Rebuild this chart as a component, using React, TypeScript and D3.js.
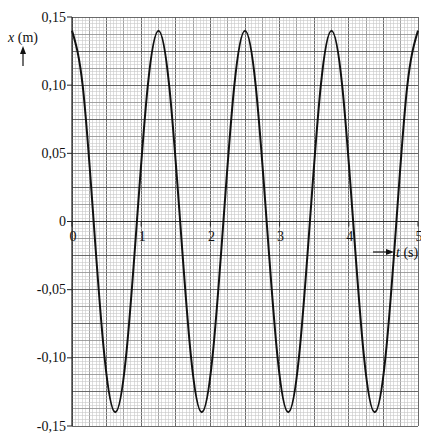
import * as d3 from "d3";

// sampled readings of the curve, every 1/8 period
const times = [
  0, 0.156, 0.313, 0.469, 0.625, 0.781, 0.938, 1.094,
  1.25, 1.406, 1.563, 1.719, 1.875, 2.031, 2.188, 2.344,
  2.5, 2.656, 2.813, 2.969, 3.125, 3.281, 3.438, 3.594,
  3.75, 3.906, 4.063, 4.219, 4.375, 4.531, 4.688, 4.844, 5,
];
const positions = [
  0.14, 0.099, 0, -0.099, -0.14, -0.099, 0, 0.099,
  0.14, 0.099, 0, -0.099, -0.14, -0.099, 0, 0.099,
  0.14, 0.099, 0, -0.099, -0.14, -0.099, 0, 0.099,
  0.14, 0.099, 0, -0.099, -0.14, -0.099, 0, 0.099,
  0.14,
];

const yTicks = [0.15, 0.1, 0.05, 0, -0.05, -0.1, -0.15];
const yTickLabels = ["0,15", "0,10", "0,05", "0", "-0,05", "-0,10", "-0,15"];
const xTicks = [0, 1, 2, 3, 4, 5];
const xTickLabels = ["0", "1", "2", "3", "4", "5"];

const width = 421;
const height = 437;
const margin = { top: 17, right: 3, bottom: 11, left: 72 };

export default function App() {
  const x = d3.scaleLinear().domain([0, 5]).range([margin.left, width - margin.right]);
  const y = d3.scaleLinear().domain([-0.15, 0.15]).range([height - margin.bottom, margin.top]);

  const font = '"Liberation Serif", "Times New Roman", serif';

  // graph paper: 20 small cells per second, 20 per 0.05 m
  const xCells = d3.range(0, 101).map((i) => ({ v: i * 0.05, i }));
  const yCells = d3.range(0, 121).map((i) => ({ v: -0.15 + i * 0.0025, i }));
  const cellStyle = (i: number) =>
    i % 10 === 0
      ? { stroke: "#5a5a5a", w: 0.9 }
      : i % 5 === 0
      ? { stroke: "#8c8c8c", w: 0.8 }
      : { stroke: "#c8c8c8", w: 0.6 };

  const data = times.map((t, k) => ({ t, v: positions[k] }));
  const line = d3
    .line<{ t: number; v: number }>()
    .x((d) => x(d.t))
    .y((d) => y(d.v))
    .curve(d3.curveNatural);

  const y0 = y(0);
  const txt = { fontFamily: font, fontSize: 14 };

  return (
    <svg
      width={width}
      height={height}
      style={{ position: "absolute", left: 0, top: 0, background: "#fff" }}
    >
      <rect x={0} y={0} width={width} height={height} fill="#fff" />
      <g>
        {xCells.map(({ v, i }) => {
          const s = cellStyle(i);
          return (
            <line
              key={"gx" + i}
              x1={x(v)}
              x2={x(v)}
              y1={y(-0.15)}
              y2={y(0.15)}
              stroke={s.stroke}
              strokeWidth={s.w}
              shapeRendering="crispEdges"
            />
          );
        })}
        {yCells.map(({ v, i }) => {
          const s = cellStyle(i);
          return (
            <line
              key={"gy" + i}
              x1={x(0)}
              x2={x(5)}
              y1={y(v)}
              y2={y(v)}
              stroke={s.stroke}
              strokeWidth={s.w}
              shapeRendering="crispEdges"
            />
          );
        })}
      </g>
      <line x1={x(0)} x2={x(0)} y1={y(-0.15)} y2={y(0.15)} stroke="#222" strokeWidth={1.2} />
      <line x1={x(0)} x2={x(5)} y1={y0} y2={y0} stroke="#333" strokeWidth={1} />

      {yTicks.map((v, k) => (
        <g key={"yt" + k}>
          <line x1={x(0) - 5} x2={x(0)} y1={y(v)} y2={y(v)} stroke="#222" strokeWidth={1} />
          <text
            x={x(0) - 6}
            y={y(v) + 4.5}
            textAnchor="end"
            style={txt}
            fill="#111"
          >
            {yTickLabels[k]}
          </text>
        </g>
      ))}

      {xTicks.map((v, k) => (
        <g key={"xt" + k}>
          <line x1={x(v)} x2={x(v)} y1={y0} y2={y0 + 5} stroke="#222" strokeWidth={1} />
          <text x={x(v) + 1} y={y0 + 19} textAnchor="middle" style={txt} fill="#111">
            {xTickLabels[k]}
          </text>
        </g>
      ))}

      <path d={line(data) ?? ""} fill="none" stroke="#111" strokeWidth={2} />

      {/* axis names */}
      <text x={8} y={42} style={txt} fill="#111">
        <tspan fontStyle="italic">x</tspan> (m)
      </text>
      <line x1={23} x2={23} y1={66} y2={52} stroke="#111" strokeWidth={1.2} />
      <path d="M23,46 L20,54 L26,54 Z" fill="#111" />

      <line x1={373} x2={388} y1={252} y2={252} stroke="#111" strokeWidth={1.2} />
      <path d="M394,252 L386,249 L386,255 Z" fill="#111" />
      <text x={396} y={257} style={txt} fill="#111">
        <tspan fontStyle="italic">t</tspan> (s)
      </text>
    </svg>
  );
}
